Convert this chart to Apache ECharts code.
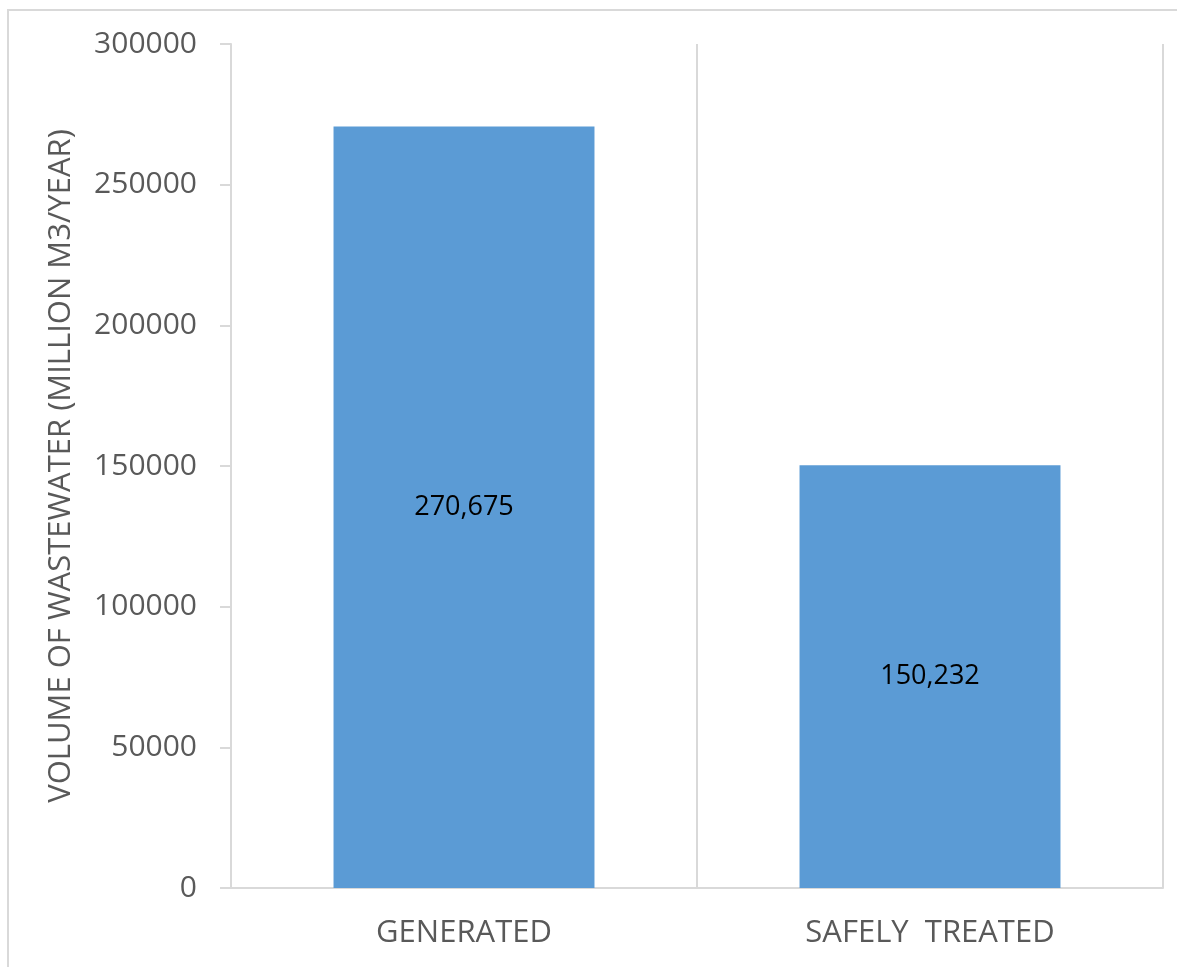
<!DOCTYPE html>
<html>
<head>
<meta charset="utf-8">
<style>
  html, body { margin: 0; padding: 0; background: #fff; }
  #chart { width: 1177px; height: 967px; }
</style>
<script src="https://cdn.jsdelivr.net/npm/echarts@6/dist/echarts.min.js"></script>
</head>
<body>
<div id="chart"></div>
<script>
// Wastewater volume (million m3 / year)
const categories = ['GENERATED', 'SAFELY  TREATED'];
const volumes = [270675, 150232];
const yTicks = { min: 0, max: 300000, interval: 50000 };
const yTitle = 'VOLUME OF WASTEWATER (MILLION M3/YEAR)';

const FONT = "'Open Sans', 'Noto Sans', sans-serif";
const GRID_GRAY = '#d9d9d9';
const TEXT_GRAY = '#595959';

const chart = echarts.init(document.getElementById('chart'), null, { renderer: 'canvas' });

chart.setOption({
  backgroundColor: '#fff',
  animation: false,
  textStyle: { fontFamily: FONT },
  graphic: [{
    type: 'rect',
    shape: { x: 8, y: 10, width: 1300, height: 1100 },
    style: { fill: 'none', stroke: GRID_GRAY, lineWidth: 2 },
    silent: true
  }],
  grid: { left: 231, right: 14, top: 44, bottom: 79, containLabel: false },
  xAxis: {
    type: 'category',
    data: categories,
    boundaryGap: true,
    axisLine: { show: true, lineStyle: { color: GRID_GRAY, width: 2 } },
    axisTick: { show: false },
    splitLine: { show: true, interval: 0, lineStyle: { color: GRID_GRAY, width: 2 } },
    axisLabel: {
      color: TEXT_GRAY, fontFamily: FONT, fontSize: 31, margin: 30, interval: 0
    }
  },
  yAxis: {
    type: 'value',
    min: yTicks.min,
    max: yTicks.max,
    interval: yTicks.interval,
    name: yTitle,
    nameLocation: 'middle',
    nameGap: 154,
    nameTextStyle: { color: TEXT_GRAY, fontFamily: FONT, fontSize: 31 },
    axisLine: { show: true, lineStyle: { color: GRID_GRAY, width: 2 } },
    axisTick: { show: true, length: 11, lineStyle: { color: GRID_GRAY, width: 2 } },
    splitLine: { show: false },
    axisLabel: {
      color: TEXT_GRAY, fontFamily: FONT, fontSize: 30, margin: 34,
      formatter: v => String(v)
    }
  },
  series: [{
    type: 'bar',
    data: volumes,
    barWidth: '56%',
    itemStyle: { color: '#5b9bd5' },
    label: {
      show: true,
      position: 'inside',
      color: '#000',
      fontFamily: FONT,
      fontSize: 27,
      formatter: p => p.value.toLocaleString('en-US')
    }
  }]
});
</script>
</body>
</html>
